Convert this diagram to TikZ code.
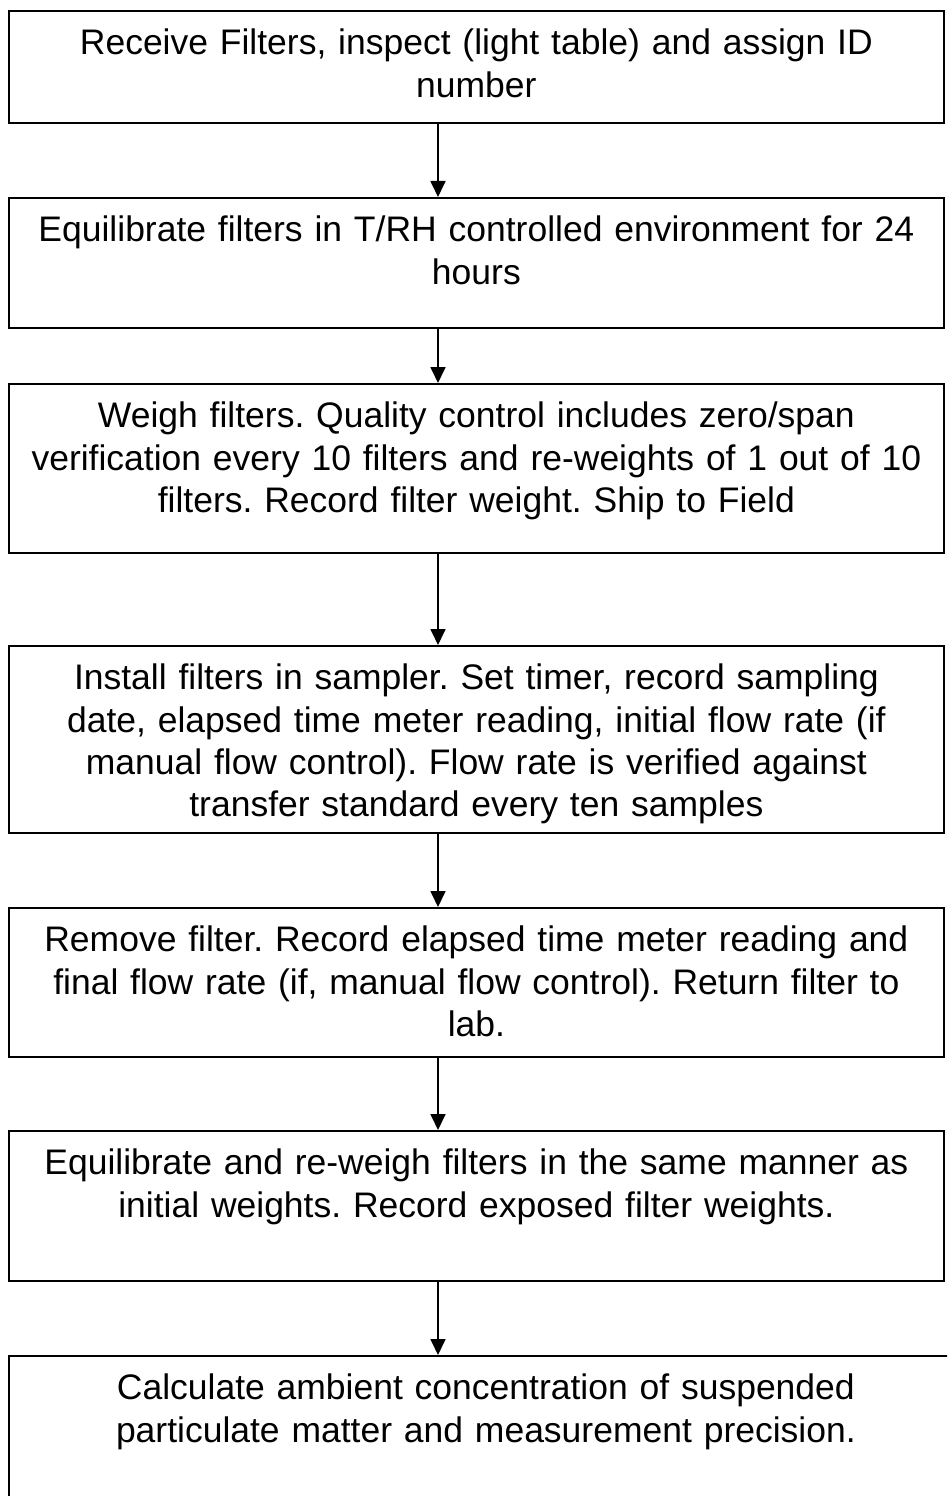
\documentclass[tikz,border=0pt]{standalone}
\usepackage{fontspec}
\setmainfont{Liberation Sans}
\usepackage{tikz}
\usetikzlibrary{positioning,calc,arrows.meta}
\frenchspacing

\begin{document}
\begin{tikzpicture}[
        x=0.02cm, y=-0.02cm,
        % --- STYLE CHUNG ---
        stepbox/.style={
            rectangle,
            draw=black,
            line width=1.1pt,
            anchor=north west,
            inner sep=0pt,
            text width=18.7cm,
            align=center,
            text height=0.88cm,
            font=\fontsize{20.2}{24}\selectfont
        },
        % Style mui ten
        flowarrow/.style={
            draw=black,
            line width=1pt,
            -{Triangle[width=0.3cm, length=0.32cm]}
        }
    ]

        % --- KHUNG ---
        \clip (0,0) rectangle (947,1496);
        \fill[white] (0,0) rectangle (947,1496);
        \coordinate (ax) at (438,0);

        % --- CAC BUOC ---
        \node[stepbox, text depth=1.36cm] (b1) at (8,10)
            {Receive Filters, inspect (light table) and assign ID\\ number};
        \node[stepbox, text depth=1.72cm] (b2) at (8,197)
            {Equilibrate filters in T/RH controlled environment for 24\\ hours};
        \node[stepbox, text depth=2.5cm] (b3) at (8,383)
            {Weigh filters. Quality control includes zero/span\\
             verification every 10 filters and re-weights of 1 out of 10\\
             filters. Record filter weight. Ship to Field};
        \node[stepbox, text depth=2.86cm] (b4) at (8,645)
            {Install filters in sampler. Set timer, record sampling\\
             date, elapsed time meter reading, initial flow rate (if\\
             manual flow control). Flow rate is verified against\\
             transfer standard every ten samples};
        \node[stepbox, text depth=2.1cm] (b5) at (8,907)
            {Remove filter. Record elapsed time meter reading and\\
             final flow rate (if, manual flow control). Return filter to\\
             lab.};
        \node[stepbox, text depth=2.12cm] (b6) at (8,1130)
            {Equilibrate and re-weigh filters in the same manner as\\
             initial weights. Record exposed filter weights.};
        \node[stepbox, text width=19.08cm, text depth=2.3cm] (b7) at (8,1355)
            {Calculate ambient concentration of suspended\\
             particulate matter and measurement precision.};

        % --- MUI TEN ---
        \foreach \a/\b in {b1/b2, b2/b3, b3/b4, b4/b5, b5/b6, b6/b7} {
            \draw[flowarrow] (\a.south -| ax) -- (\b.north -| ax);
        }

    \end{tikzpicture}
\end{document}
